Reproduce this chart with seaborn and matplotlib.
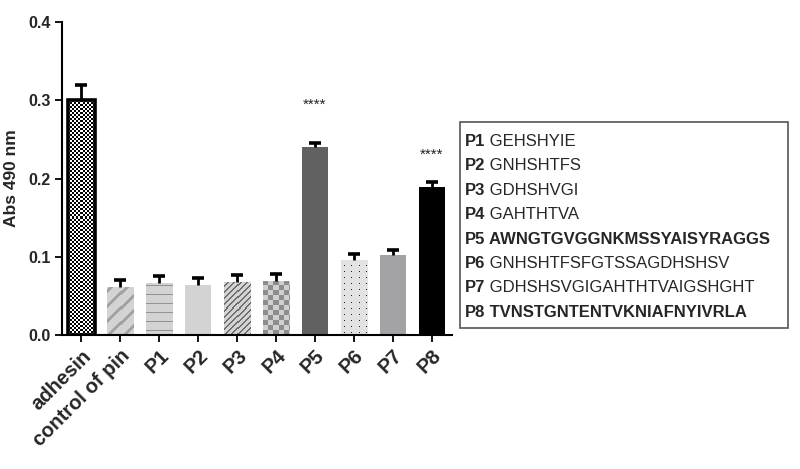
import numpy as np
import pandas as pd
import matplotlib
matplotlib.use("Agg")
import matplotlib.pyplot as plt
import matplotlib.colors as mcolors
import seaborn as sns
from matplotlib.patches import Rectangle

categories = ["adhesin", "control of pin", "P1", "P2", "P3", "P4", "P5", "P6", "P7", "P8"]
means = [0.301, 0.061, 0.066, 0.064, 0.068, 0.069, 0.241, 0.096, 0.102, 0.189]
errors = [0.019, 0.009, 0.009, 0.009, 0.009, 0.009, 0.004, 0.008, 0.007, 0.007]
significant = ["", "", "", "", "", "", "****", "", "", "****"]

peptide_names = ["P1", "P2", "P3", "P4", "P5", "P6", "P7", "P8"]
peptide_seqs = ["GEHSHYIE", "GNHSHTFS", "GDHSHVGI", "GAHTHTVA",
                "AWNGTGVGGNKMSSYAISYRAGGS", "GNHSHTFSFGTSSAGDHSHSV",
                "GDHSHSVGIGAHTHTVAIGSHGHT", "TVNSTGNTENTVKNIAFNYIVRLA"]
peptide_bold = [False, False, False, False, True, False, False, True]

sns.set_theme(style="ticks")
plt.rcParams["font.family"] = ["Liberation Sans", "DejaVu Sans"]

fills = ["#ffffff", "#d3d3d3", "#d3d3d3", "#d3d3d3", "#d3d3d3", "#d0d0d0",
         "#616161", "#e2e2e2", "#a3a3a6", "#000000"]
patterns = ["finechecker", "stripes", "hlines", None, "finestripes", "checker",
            None, "dots", None, None]


def texture(kind, w, h, base):
    jj, ii = np.meshgrid(np.arange(w), np.arange(h))
    ii = h - 1 - ii  # count rows from bottom
    rgb = np.array(mcolors.to_rgb(base))
    img = np.tile(rgb, (h, w, 1))
    if kind == "finechecker":
        m = ((jj // 2 + ii // 2) % 2) == 0
        img[m] = mcolors.to_rgb("#000000")
        img[~m] = mcolors.to_rgb("#ffffff")
    elif kind == "stripes":
        m = ((jj - ii) % 15) < 4
        img[m] = mcolors.to_rgb("#a2a2a2")
    elif kind == "hlines":
        m = (ii % 9) == 4
        img[m] = mcolors.to_rgb("#929292")
    elif kind == "finestripes":
        m = ((jj - ii) % 6) < 1.5
        img[m] = mcolors.to_rgb("#6e6e6e")
    elif kind == "checker":
        m = ((jj // 5 + ii // 5) % 2) == 0
        img[m] = mcolors.to_rgb("#8d8d8d")
    elif kind == "dots":
        m = ((jj % 7) == 3) & ((ii % 6) == 2)
        img[m] = mcolors.to_rgb("#202020")
    return img


fig = plt.figure(figsize=(8, 4.69), dpi=100)
ax = fig.add_axes([0.0775, 0.2857, 0.4875, 0.667])

df = pd.DataFrame({"cat": categories, "val": means})
sns.barplot(data=df, x="cat", y="val", hue="cat", palette=fills, legend=False,
            width=0.68, ax=ax, saturation=1, linewidth=0)

XLIM = (-0.5, 9.52)
ax.set_ylim(0, 0.4)
ax.set_xlim(*XLIM)

bars = list(ax.patches)
for i, p in enumerate(bars):
    kind = patterns[i]
    if kind is None:
        continue
    x0, y0 = p.get_x(), p.get_y()
    x1, y1 = x0 + p.get_width(), y0 + p.get_height()
    (px0, py0), (px1, py1) = ax.transData.transform([(x0, y0), (x1, y1)])
    w = max(int(round(px1 - px0)), 1)
    h = max(int(round(py1 - py0)), 1)
    img = texture(kind, w, h, fills[i])
    im = ax.imshow(img, extent=[x0, x1, y0, y1], origin="upper",
                   interpolation="nearest", aspect="auto", zorder=p.get_zorder() + 0.1)
    im.set_clip_path(p)

p0 = bars[0]
ax.add_patch(Rectangle((p0.get_x(), 0), p0.get_width(), means[0], fill=False,
                       edgecolor="black", linewidth=2.6, zorder=3))

xs = np.arange(len(categories))
eb = ax.errorbar(xs, means, yerr=[np.zeros(len(errors)), errors], fmt="none",
                 ecolor="black", elinewidth=2.0, capsize=4.6, capthick=2.6, zorder=4)
eb[1][0].set_visible(False)

ax.set_ylim(0, 0.4)
ax.set_xlim(*XLIM)

star_gap = {6: 0.050, 9: 0.035}
for x, m, e, s in zip(xs, means, errors, significant):
    if s:
        ax.text(x, m + e + star_gap.get(int(x), 0.04), s, ha="center", va="center",
                fontsize=11, color="#222222")

ax.set_yticks([0.0, 0.1, 0.2, 0.3, 0.4])
ax.set_yticklabels(["0.0", "0.1", "0.2", "0.3", "0.4"], fontweight="bold", fontsize=11.5)
ax.set_xticks(xs)
ax.set_xticklabels(categories, rotation=45, ha="right", rotation_mode="anchor",
                   fontweight="bold", fontsize=14.5)
ax.set_xlabel("")
ax.set_ylabel("Abs 490 nm", fontweight="bold", fontsize=12.5, labelpad=7)
sns.despine(ax=ax)
for sp in ["left", "bottom"]:
    ax.spines[sp].set_linewidth(1.5)
    ax.spines[sp].set_color("black")
ax.tick_params(axis="both", direction="out", length=5, width=1.3, color="black", pad=3)

# sequence box
fig.patches.append(Rectangle((460 / 800, 1 - 328 / 469), 328 / 800, 206 / 469,
                             transform=fig.transFigure, fill=False,
                             edgecolor="#555555", linewidth=1.2))
y0 = 141.5
dy = 24.4
for k, (nm, sq, b) in enumerate(zip(peptide_names, peptide_seqs, peptide_bold)):
    yy = 1 - (y0 + k * dy) / 469
    t = fig.text(465 / 800, yy, nm, fontweight="bold", fontsize=12, va="center", ha="left")
    ax.annotate(" " + sq, xy=(1, 0.5), xycoords=t, va="center", ha="left",
                fontsize=12, fontweight="bold" if b else "normal",
                annotation_clip=False)

fig.savefig("out.png", dpi=100)
